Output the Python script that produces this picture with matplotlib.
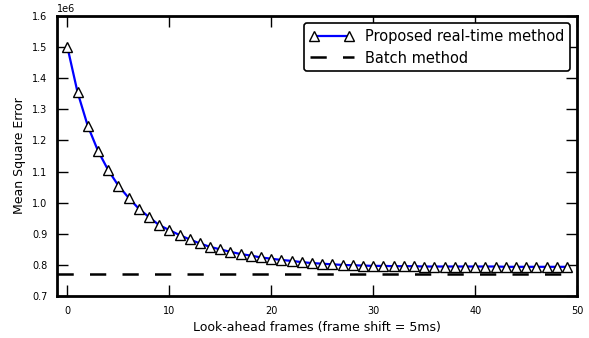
import numpy as np
import matplotlib
matplotlib.use('Agg')
import matplotlib.pyplot as plt

frames = list(range(50))
mse_realtime = [1.501, 1.355, 1.247, 1.167, 1.105, 1.055, 1.016, 0.981, 0.954, 0.928,
                0.912, 0.896, 0.882, 0.869, 0.858, 0.850, 0.842, 0.835, 0.830, 0.824,
                0.820, 0.816, 0.813, 0.809, 0.806, 0.804, 0.802, 0.800, 0.799, 0.798,
                0.797, 0.797, 0.796, 0.796, 0.796, 0.795, 0.795, 0.795, 0.795, 0.795,
                0.795, 0.795, 0.795, 0.794, 0.794, 0.794, 0.794, 0.794, 0.794, 0.794]
mse_batch = 0.771
scale = 1e6

fig = plt.figure(figsize=(5.89, 3.38), dpi=100)
ax = fig.add_axes([0.097, 0.124, 0.883, 0.829])

ax.plot(frames, np.array(mse_realtime) * scale, color='b', lw=1.6, marker='^',
        markersize=6.8, markerfacecolor='w', markeredgecolor='k', markeredgewidth=1,
        label='Proposed real-time method')
ax.hlines(mse_batch * scale, -1, frames[-1], colors='k', lw=1.8,
          linestyles=(0, (6.5, 6.5)), label='Batch method')

ax.set_xlim(-1, 50)
ax.set_ylim(0.7e6, 1.6e6)
ax.set_xticks(range(0, 51, 10))
ax.set_yticks(np.arange(0.7, 1.61, 0.1) * scale)
ax.tick_params(direction='in', top=True, right=True, length=8, width=1, labelsize=7, pad=7)
ax.ticklabel_format(axis='y', style='sci', scilimits=(0, 0))
ax.yaxis.get_offset_text().set_fontsize(7)
for s in ax.spines.values():
    s.set_linewidth(2)

ax.set_xlabel('Look-ahead frames (frame shift = 5ms)', fontsize=9)
ax.set_ylabel('Mean Square Error', fontsize=9)

leg = ax.legend(loc='upper right', fontsize=10.5, numpoints=2, handlelength=3,
                fancybox=True, framealpha=1, borderaxespad=0.5,
                labelspacing=0.45, borderpad=0.4, handletextpad=0.75)
leg.get_frame().set_edgecolor('k')
leg.get_frame().set_linewidth(1.2)

fig.savefig('out.png', dpi=100)
